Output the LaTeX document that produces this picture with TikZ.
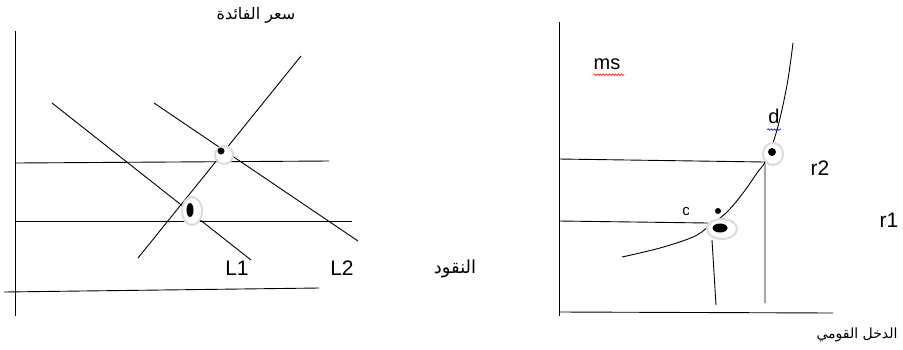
\documentclass[tikz,border=0pt]{standalone}
\usepackage{fontspec}
\setmainfont{Liberation Sans}
\newfontfamily\arabicfont[Script=Arabic]{DejaVu Sans}
\TeXXeTstate=1
\usetikzlibrary{shapes.geometric,decorations.pathmorphing}

\begin{document}
\begin{tikzpicture}[
    x=1pt, y=-1pt,
    axis/.style={draw=black, line width=0.9pt},
    curve/.style={draw=black, line width=0.9pt},
    halo/.style={ellipse, draw=gray!28, line width=2pt, fill=white, inner sep=0pt},
    dot/.style={circle, fill=black, inner sep=0pt, minimum size=7pt},
    label/.style={font=\fontsize{21}{23}\selectfont, inner sep=0pt},
    arlabel/.style={font=\arabicfont\fontsize{16}{18}\selectfont, inner sep=0pt},
    squiggle/.style={line width=0.6pt, decorate, decoration={snake, amplitude=0.8pt, segment length=3pt}},
]
    \useasboundingbox (0,0) rectangle (903,349);

    % =====================================================================
    % (left) money market
    % =====================================================================
    \coordinate (ly_top) at (15,31);
    \coordinate (ly_bot) at (15,316);
    \coordinate (lx_a) at (4,292);
    \coordinate (lx_b) at (319,288);
    \draw[axis] (ly_top) -- (ly_bot);
    \draw[axis] (lx_a) -- (lx_b);

    % interest levels
    \coordinate (hi_a) at (16,163);
    \coordinate (hi_b) at (329,161);
    \coordinate (lo_a) at (16,221);
    \coordinate (lo_b) at (352,221);
    \draw[axis] (hi_a) -- (hi_b);
    \draw[axis] (lo_a) -- (lo_b);

    % supply and demand lines
    \coordinate (lm_a) at (138,258);
    \coordinate (lm_b) at (301,56);
    \coordinate (l1_a) at (52,103);
    \coordinate (l1_b) at (251,260);
    \coordinate (l2_a) at (154,103);
    \coordinate (l2_b) at (358,241);
    \draw[curve] (lm_a) -- (lm_b);
    \draw[curve] (l1_a) -- (l1_b);
    \draw[curve] (l2_a) -- (l2_b);

    % equilibrium points
    \node[halo, minimum width=18pt, minimum height=18pt] (ha1) at (224,155) {};
    \node[dot] (pt1) at (221,151) {};
    \node[halo, minimum width=20pt, minimum height=28pt] (ha2) at (192,211) {};
    \node[ellipse, fill=black, inner sep=0pt, minimum width=7pt, minimum height=14pt] (pt2) at (190,210) {};

    \node[label] (l1) at (237,268) {L1};
    \node[label] (l2) at (342,268) {L2};
    \node[arlabel] (rate) at (256,15) {\beginR سعر الفائدة\endR};
    \node[arlabel, font=\arabicfont\fontsize{18}{20}\selectfont] (money) at (455,269) {\beginR النقود\endR};

    % =====================================================================
    % (right) income curve
    % =====================================================================
    \coordinate (ry_top) at (559,22);
    \coordinate (ry_bot) at (559,316);
    \coordinate (rx_a) at (559,312);
    \coordinate (rx_b) at (833,313);
    \draw[axis] (ry_top) -- (ry_bot);
    \draw[axis] (rx_a) -- (rx_b);

    % income curve
    \draw[curve] plot[smooth, tension=0.6] coordinates {
        (622,257) (660,248) (693,237) (708,227) (727,212) (743,193)
        (757,173) (766,160) (777,130) (787,85) (793,43)};

    % guide lines
    \coordinate (up_a) at (559,159);
    \coordinate (up_b) at (765,162);
    \coordinate (up_c) at (765,303);
    \coordinate (dn_a) at (559,221);
    \coordinate (dn_b) at (708,223);
    \coordinate (dn_c) at (712,240);
    \coordinate (dn_d) at (716,305);
    \draw[axis] (up_a) -- (up_b) -- (up_c);
    \draw[axis] (dn_a) -- (dn_b);
    \draw[axis] (dn_c) -- (dn_d);

    % points c and d
    \node[halo, minimum width=20pt, minimum height=22pt] (had) at (773,154) {};
    \node[dot, minimum size=8pt] (ptd) at (772,152) {};
    \node[halo, minimum width=30pt, minimum height=20pt] (hac) at (722,229) {};
    \node[ellipse, fill=black, inner sep=0pt, minimum width=15pt, minimum height=9pt] (ptc) at (720,228) {};
    \node[dot, minimum size=6pt] (ptc2) at (718,211) {};

    \node[label, font=\fontsize{20}{22}\selectfont] (ms) at (607,64) {ms};
    \node[label, font=\fontsize{20}{22}\selectfont] (d) at (774,116) {d};
    \node[label, font=\fontsize{15}{17}\selectfont] (c) at (686,212) {c};
    \node[label] (r2) at (820,168) {r2};
    \node[label] (r1) at (889,220) {r1};
    \draw[squiggle, red] (ms.south west) ++(0,5) -- ++(31,0);
    \draw[squiggle, blue] (d.south west) ++(-1,6) -- ++(14,0);
    \node[arlabel, font=\arabicfont\fontsize{14}{16}\selectfont] (income) at (857,335) {\beginR الدخل القومي\endR};

\end{tikzpicture}
\end{document}
